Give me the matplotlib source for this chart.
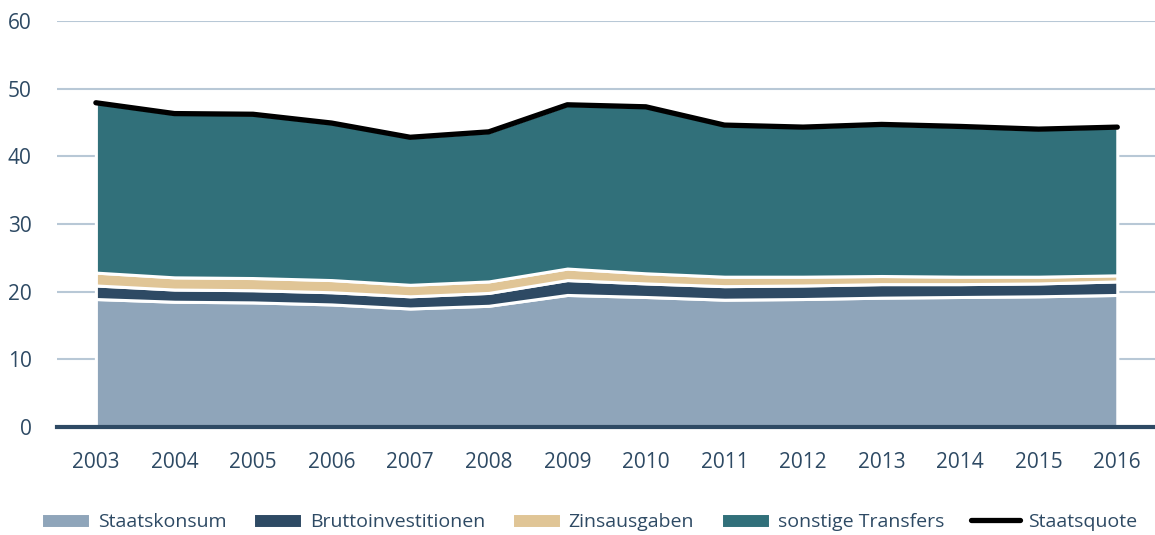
import matplotlib.pyplot as plt
import numpy as np

# Data (Anteile am BIP in %)
years = [2003, 2004, 2005, 2006, 2007, 2008, 2009,
         2010, 2011, 2012, 2013, 2014, 2015, 2016]
staatskonsum = [18.9, 18.5, 18.4, 18.1, 17.5, 17.9, 19.5,
                19.2, 18.8, 18.9, 19.1, 19.2, 19.3, 19.5]
bruttoinvestitionen = [2.0, 1.8, 1.8, 1.8, 1.8, 1.9, 2.2,
                       2.0, 2.0, 2.0, 2.0, 1.9, 1.9, 2.0]
zinsausgaben = [1.9, 1.8, 1.8, 1.8, 1.7, 1.7, 1.7,
                1.5, 1.4, 1.3, 1.2, 1.1, 1.0, 0.9]
staatsquote = [47.9, 46.3, 46.2, 44.9, 42.8, 43.6, 47.6,
               47.3, 44.6, 44.3, 44.7, 44.4, 44.0, 44.3]

# sonstige Transfers = Rest bis zur Staatsquote
transfers = (np.array(staatsquote) - np.array(staatskonsum)
             - np.array(bruttoinvestitionen) - np.array(zinsausgaben))

labels = ["Staatskonsum", "Bruttoinvestitionen",
          "Zinsausgaben", "sonstige Transfers"]
colors = ["#8fa5ba", "#2e4a64", "#e0c596", "#31707a"]

text_color = "#2e4a64"
plt.rcParams["font.family"] = ["Open Sans", "DejaVu Sans"]

fig = plt.figure(figsize=(11.55, 5.35), dpi=100)
ax = fig.add_axes([0.049, 0.202, 0.951, 0.759])

# Stacked areas with white separators
series = [staatskonsum, bruttoinvestitionen, zinsausgaben, transfers]
bottom = np.zeros(len(years))
for vals, lab, col in zip(series, labels, colors):
    top = bottom + np.array(vals)
    ax.fill_between(years, bottom, top, facecolor=col,
                    edgecolor="white", linewidth=2.2, label=lab, zorder=2)
    bottom = top

ax.plot(years, staatsquote, color="black", linewidth=3.8,
        solid_capstyle="round", label="Staatsquote", zorder=3)

# Axes styling
ax.set_xlim(2002.5, 2016.48)
ax.set_ylim(0, 60)
ax.set_yticks(range(0, 61, 10))
ax.set_xticks(years)
ax.grid(axis="y", color="#b8c8d6", linewidth=1.5, zorder=0)
ax.set_axisbelow(True)
for side in ["top", "right", "left"]:
    ax.spines[side].set_visible(False)
ax.spines["bottom"].set_color(text_color)
ax.spines["bottom"].set_linewidth(3)
ax.spines["bottom"].set_zorder(4)
ax.tick_params(axis="both", length=0, labelsize=15, colors=text_color)
ax.tick_params(axis="x", pad=18)
ax.tick_params(axis="y", pad=18)

# Legend
handles, leg_labels = ax.get_legend_handles_labels()
fig.legend(handles, leg_labels, loc="center", bbox_to_anchor=(0.51, 0.024),
           ncol=5, frameon=False, fontsize=14, handlelength=2.5,
           handleheight=0.8, handletextpad=0.4, columnspacing=1.4,
           labelcolor=text_color)

plt.savefig("out.png", dpi=100)
